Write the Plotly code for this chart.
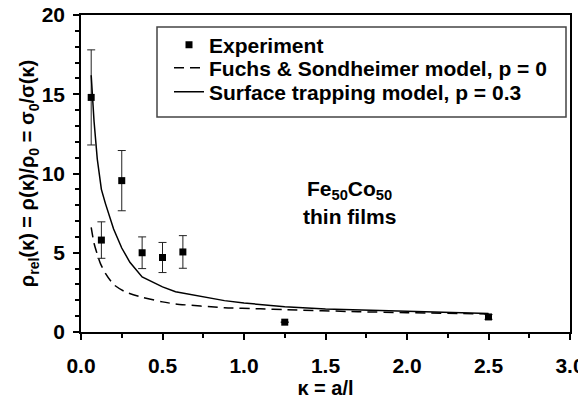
import plotly.graph_objects as go

# Experimental data
exp_x = [0.0625, 0.125, 0.25, 0.375, 0.5, 0.625, 1.25, 2.5]
exp_y = [14.8, 5.8, 9.55, 5.0, 4.7, 5.05, 0.62, 0.95]
exp_err = [3.0, 1.15, 1.9, 1.0, 0.95, 1.03, 0.0, 0.15]

# Fuchs & Sondheimer model, p = 0
fs_x = [0.0625, 0.08, 0.1, 0.12, 0.15, 0.2, 0.27, 0.375, 0.5, 0.58, 0.88, 1.1, 1.25, 1.7, 2.0, 2.5]
fs_y = [6.6, 5.6, 4.9, 4.3, 3.7, 3.0, 2.54, 2.19, 1.9, 1.77, 1.53, 1.46, 1.41, 1.28, 1.22, 1.14]

# Surface trapping model, p = 0.3
st_x = [0.0625, 0.08, 0.1, 0.125, 0.15, 0.2, 0.25, 0.3, 0.375, 0.5, 0.58, 0.75, 0.88, 1.0, 1.1, 1.25, 1.5, 2.0, 2.5]
st_y = [16.2, 13.3, 10.9, 9.0, 8.1, 6.5, 5.3, 4.4, 3.47, 2.85, 2.54, 2.2, 1.98, 1.83, 1.72, 1.6, 1.45, 1.3, 1.17]

x_ticks = [0.0, 0.5, 1.0, 1.5, 2.0, 2.5, 3.0]
y_ticks = [0, 5, 10, 15, 20]

FONT = "Liberation Sans, Arial, sans-serif"

fig = go.Figure()
fig.add_trace(go.Scatter(
    x=exp_x, y=exp_y, mode="markers", name="<b>Experiment</b>",
    marker=dict(symbol="square", size=7, color="black"),
    error_y=dict(type="data", array=exp_err, visible=True, color="#222222", thickness=1, width=4),
    legend="legend",
))
fig.add_trace(go.Scatter(
    x=fs_x, y=fs_y, mode="lines", name="<b>Fuchs & Sondheimer model, p = 0</b>",
    line=dict(color="black", width=1.5, dash="10px,6px", shape="spline", smoothing=0.6),
    legend="legend2",
))
fig.add_trace(go.Scatter(
    x=st_x, y=st_y, mode="lines", name="<b>Surface trapping model, p = 0.3</b>",
    line=dict(color="black", width=1.5),
    legend="legend3",
))

# The page has an 8px body margin, so the figure is drawn 8px in from the corner.
OFF = 8
W, H = 586 - OFF, 399 - OFF
PL, PR, PT, PB = 81, 570, 15, 332          # plot area in window pixels
L, T = PL - OFF, PT - OFF
R, B = (W + OFF) - PR, (H + OFF) - PB
pw, ph = PR - PL, PB - PT

def px_x(p):
    return (p - PL) / pw

def px_y(p):
    return (PB - p) / ph

leg_common = dict(
    xanchor="left", yanchor="middle", bgcolor="rgba(0,0,0,0)", borderwidth=0,
    font=dict(family=FONT, size=21, color="black"), x=px_x(169),
)

fig.update_layout(
    width=W, height=H,
    margin=dict(l=L, r=R, t=T, b=B, pad=0, autoexpand=False),
    paper_bgcolor="white", plot_bgcolor="white",
    font=dict(family=FONT, size=21, color="black"),
    showlegend=True,
    legend=dict(y=px_y(45), **leg_common),
    legend2=dict(y=px_y(68), **leg_common),
    legend3=dict(y=px_y(92), **leg_common),
    xaxis=dict(
        range=[0, 3], tickvals=x_ticks, ticktext=[f"<b>{v:.1f}</b>" for v in x_ticks],
        ticks="outside", ticklen=6, tickwidth=1.5, tickcolor="black",
        minor=dict(dtick=0.25, ticks="outside", ticklen=4, tickwidth=1.5, tickcolor="black"),
        showline=True, linecolor="black", linewidth=1.5, mirror=True,
        showgrid=False, zeroline=False, ticklabelstandoff=8, automargin=False,
        ticklabeloverflow="allow",
        tickfont=dict(family=FONT, size=21),
        title=dict(text="<b>κ = a/l</b>", standoff=6, font=dict(family=FONT, size=20)),
    ),
    yaxis=dict(
        range=[0, 20], tickvals=y_ticks, ticktext=[f"<b>{v}</b>" for v in y_ticks],
        ticks="outside", ticklen=6, tickwidth=1.5, tickcolor="black",
        minor=dict(dtick=1, ticks="outside", ticklen=4, tickwidth=1.5, tickcolor="black"),
        showline=True, linecolor="black", linewidth=1.5, mirror=True,
        showgrid=False, zeroline=False, ticklabelstandoff=4, automargin=False,
        ticklabeloverflow="allow",
        tickfont=dict(family=FONT, size=21),
        title=dict(text="<b>ρ<sub>rel</sub>(κ) = ρ(κ)/ρ<sub>0</sub> = σ<sub>0</sub>/σ(κ)</b>",
                   standoff=0, font=dict(family=FONT, size=20)),
    ),
    shapes=[dict(
        type="rect", xref="paper", yref="paper",
        x0=px_x(157), x1=px_x(566), y0=px_y(117), y1=px_y(27),
        line=dict(color="#444444", width=1.5), fillcolor="rgba(0,0,0,0)",
    )],
    annotations=[
        dict(x=1.65, y=8.96, xref="x", yref="y", showarrow=False,
             text="<b>Fe<sub>50</sub>Co<sub>50</sub></b>", font=dict(family=FONT, size=21)),
        dict(x=1.65, y=7.26, xref="x", yref="y", showarrow=False,
             text="<b>thin films</b>", font=dict(family=FONT, size=21)),
    ],
)

fig.write_html("out.html")
